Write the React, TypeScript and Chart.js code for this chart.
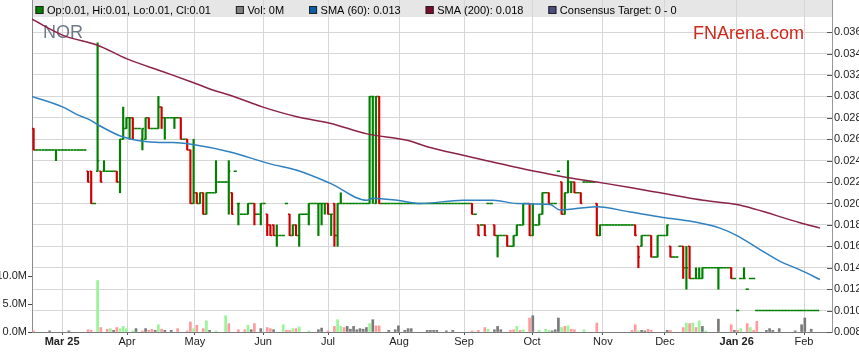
import React, { useEffect, useRef } from 'react';
import { Chart, registerables } from 'chart.js';

Chart.register(...registerables);

const FONT = "'Liberation Sans', Arial, sans-serif";
const PRICE_UNIT = 0.001; // bar prices below are in thousandths of a dollar

// [open, high, low, close] per trading day, in thousandths
const priceBars: number[][] = [
  [27,27,25,25],[25,25,25,25],[25,25,25,25],[25,25,25,25],[25,25,25,25],[25,25,25,25],[25,25,25,25],[25,25,24,25],[25,25,25,25],[25,25,25,25],
  [25,25,25,25],[25,25,25,25],[25,25,25,25],[25,25,25,25],[25,25,25,25],[25,25,25,25],[25,25,25,25],[23,23,22,22],[23,23,20,20],[20,20,20,20],
  [23,35,23,24],[23,23,22,22],[23,24,23,23],[23,23,23,23],[23,23,23,23],[23,23,23,23],[23,23,22,22],[22,26,21,26],[26,29,26,27],[27,28,27,28],
  [28,28,26,28],[28,28,26,27],[27,27,27,27],[27,27,27,27],[26,27,25,27],[26,28,26,28],[28,28,27,27],[27,27,27,27],[27,27,27,27],[27,30,27,29],
  [29,29,27,28],[28,28,26,28],[28,28,28,28],[28,28,28,28],[28,28,27,28],[28,28,28,28],[28,28,26,26],[26,26,26,26],[26,26,25,25],[25,25,20,20],
  [20,26,20,21],[21,21,20,20],[20,21,20,21],[21,21,19,19],[19,21,19,21],[21,21,21,21],[21,21,21,21],[21,24,21,22],[22,22,22,22],[22,22,22,22],
  [22,22,22,22],[22,24,19,23],[21,21,19,19],[23,23,23,23],[20,20,18,20],[19,19,19,19],[19,19,19,19],[19,20,19,20],[20,20,20,20],[20,20,18,19],
  [19,19,19,19],[19,20,18,20],[20,20,20,20],[19,19,17,18],[18,18,17,17],[18,18,17,17],[17,18,16,17],[17,17,17,17],[17,17,17,17],[20,20,20,20],
  [19,19,17,17],[17,18,17,18],[18,18,17,17],[17,19,16,19],[19,19,19,19],[19,19,19,19],[19,20,18,20],[20,20,20,20],[20,20,20,20],[20,20,17,20],
  [20,20,18,20],[20,20,19,20],[20,20,19,19],[19,19,17,19],[20,20,16,17],[17,20,16,20],[20,21,20,20],[20,20,20,20],[20,20,20,20],[20,20,20,20],
  [20,20,20,20],[20,20,20,20],[20,20,20,20],[20,20,20,20],[20,20,20,20],[20,30,20,30],[30,30,20,30],[20,30,20,30],[30,30,20,20],[20,20,20,20],
  [20,20,20,20],[20,20,20,20],[20,20,20,20],[20,20,20,20],[20,20,20,20],[20,20,20,20],[20,20,20,20],[20,20,20,20],[20,20,20,20],[20,20,20,20],
  [20,20,20,20],[20,20,20,20],[20,20,20,20],[20,20,20,20],[20,20,20,20],[20,20,20,20],[20,20,20,20],[20,20,20,20],[20,20,20,20],[20,20,20,20],
  [20,20,20,20],[20,20,20,20],[20,20,20,20],[20,20,20,20],[20,20,20,20],[20,20,20,20],[20,20,20,20],[20,20,19,19],[19,19,19,19],[18,18,17,17],
  [18,18,18,18],[18,18,17,17],[20,20,20,20],[20,20,20,20],[18,18,17,17],[17,17,15,17],[17,17,17,17],[17,17,17,17],[17,17,16,16],[16,16,16,16],
  [16,17,16,17],[17,18,17,18],[18,18,18,18],[18,20,18,20],[20,20,20,20],[20,20,17,17],[17,20,17,18],[18,18,18,18],[18,19,18,19],[19,21,19,21],
  [21,21,21,21],[21,21,20,20],[20,20,20,20],[20,20,20,20],[23,23,23,23],[22,22,19,19],[19,21,19,21],[21,24,21,22],[22,22,21,22],[22,22,21,21],
  [21,21,21,21],[21,21,20,20],[22,22,22,22],[22,22,22,22],[22,22,22,22],[22,22,22,22],[20,20,17,17],[17,18,17,18],[18,18,18,18],[18,18,18,18],
  [18,18,18,18],[18,18,18,18],[18,18,18,18],[18,18,18,18],[18,18,18,18],[18,18,18,18],[18,18,18,18],[18,18,18,18],[18,18,17,17],[16,16,14,15],
  [16,17,16,17],[17,17,17,17],[17,17,17,17],[17,17,15,15],[15,15,15,15],[15,17,15,17],[17,17,17,17],[17,17,17,17],[17,18,17,18],[16,16,15,15],
  [15,15,15,15],[15,15,15,15],[16,16,16,16],[16,16,13,14],[14,16,12,14],[16,16,13,13],[13,13,13,13],[13,14,13,13],[13,14,13,13],[13,14,13,14],
  [14,14,14,14],[14,14,14,14],[14,14,14,14],[14,14,14,14],[14,14,12,14],[14,14,14,14],[14,14,14,14],[14,14,14,14],[14,14,13,13],[13,13,13,13],
  [10,10,10,10],[13,13,13,13],[13,14,13,13],[12,12,12,12],[13,13,13,13],[13,13,13,13],[10,10,10,10],[10,10,10,10],[10,10,10,10],[10,10,10,10],
  [10,10,10,10],[10,10,10,10],[10,10,10,10],[10,10,10,10],[10,10,10,10],[10,10,10,10],[10,10,10,10],[10,10,10,10],[10,10,10,10],[10,10,10,10],
  [10,10,10,10],[10,10,10,10],[10,10,10,10],[10,10,10,10],[10,10,10,10],[10,10,10,10],
];

// [day index, volume in millions, direction u/d/n]
const volumeBars: [number, number, string][] = [
  [0,0.2,'d'],[5,0.2,'n'],[11,0.2,'n'],[17,0.4,'d'],[18,0.3,'d'],[20,9.2,'u'],[21,0.8,'d'],[23,0.5,'d'],[24,0.6,'u'],[25,0.3,'n'],
  [26,0.8,'d'],[27,0.6,'u'],[28,1.0,'u'],[29,0.6,'u'],[31,0.2,'u'],[32,0.6,'n'],[34,0.2,'d'],[35,0.6,'n'],[36,0.3,'d'],[37,0.5,'d'],
  [38,0.3,'n'],[39,1.3,'u'],[40,0.5,'d'],[41,0.3,'n'],[43,0.3,'n'],[45,0.6,'d'],[48,0.2,'d'],[49,1.8,'d'],[50,0.6,'u'],[51,1.2,'d'],
  [53,0.6,'d'],[54,2.0,'u'],[55,0.3,'n'],[57,0.2,'u'],[60,2.9,'u'],[61,1.5,'d'],[64,0.4,'d'],[66,0.4,'d'],[67,1.2,'u'],[68,0.4,'n'],
  [69,1.5,'d'],[71,0.6,'n'],[73,0.8,'d'],[74,0.6,'d'],[75,0.4,'n'],[78,1.3,'u'],[79,0.3,'d'],[80,0.3,'d'],[81,0.6,'u'],[82,0.6,'d'],
  [83,0.9,'u'],[86,0.2,'u'],[89,0.4,'n'],[90,0.7,'n'],[92,0.2,'d'],[94,1.0,'d'],[95,2.2,'u'],[96,1.0,'u'],[97,0.8,'d'],[98,1.0,'n'],
  [99,0.5,'n'],[100,1.0,'n'],[101,0.4,'n'],[102,0.6,'n'],[103,0.5,'n'],[104,0.8,'n'],[105,1.5,'u'],[106,2.2,'n'],[107,1.1,'d'],[108,1.1,'d'],
  [111,0.3,'n'],[113,0.4,'n'],[114,1.1,'n'],[116,0.3,'n'],[117,0.6,'n'],[118,0.6,'n'],[123,0.3,'n'],[124,0.3,'n'],[125,0.3,'n'],[126,0.3,'n'],
  [129,0.2,'n'],[131,0.3,'n'],[137,0.2,'d'],[139,0.3,'d'],[141,0.8,'d'],[142,0.5,'u'],[144,0.4,'n'],[145,1.0,'n'],[146,0.4,'n'],[149,0.3,'d'],
  [150,0.4,'d'],[151,1.0,'u'],[152,0.3,'d'],[153,0.4,'u'],[155,2.5,'d'],[156,2.9,'n'],[158,0.3,'u'],[160,0.5,'u'],[161,0.3,'u'],[162,0.2,'n'],
  [163,0.4,'n'],[164,2.5,'n'],[165,0.8,'u'],[166,1.0,'d'],[167,1.1,'u'],[168,0.5,'d'],[169,0.4,'d'],[172,0.4,'u'],[176,1.6,'d'],[187,0.3,'d'],
  [188,1.3,'d'],[189,0.2,'u'],[190,0.3,'n'],[191,0.2,'n'],[192,0.5,'d'],[193,0.3,'d'],[198,0.3,'n'],[199,0.3,'d'],[203,0.8,'d'],[204,1.6,'u'],
  [205,1.5,'d'],[206,1.6,'u'],[207,0.8,'d'],[208,2.0,'u'],[209,1.0,'n'],[210,0.2,'u'],[214,2.3,'n'],[218,1.3,'d'],[219,0.3,'n'],[220,0.3,'d'],
  [221,0.6,'u'],[223,1.5,'d'],[224,0.8,'u'],[225,0.3,'d'],[226,1.9,'d'],[229,0.3,'n'],[230,0.6,'n'],[231,0.3,'n'],[233,0.6,'n'],[238,0.2,'n'],
  [240,1.3,'n'],[241,2.5,'n'],[243,0.5,'n'],
];

const sma60Idx = [-0.5, 9.2, 13.6, 17.6, 19.8, 28, 39.5, 43.6, 49.8, 61.4, 73.9, 82.3, 92.6, 104.2, 106, 113.6, 120.75, 134.2, 143.6, 151.1, 161.4, 164.5, 176, 186.4, 196.7, 206.1, 214.5, 219.8, 227, 233.25, 239.5, 245.75];
const sma60Val = [0.0300, 0.0290, 0.0283, 0.0278, 0.0274, 0.0262, 0.0257, 0.0257, 0.0255, 0.0248, 0.0237, 0.0231, 0.0219, 0.0203, 0.0205, 0.0203, 0.0200, 0.0203, 0.0203, 0.0200, 0.0199, 0.0194, 0.0197, 0.0192, 0.0187, 0.0183, 0.0177, 0.0170, 0.0157, 0.0146, 0.0138, 0.0129];

const sma200Idx = [-0.5, 9.2, 19.8, 29.2, 40.5, 49.8, 56, 61.4, 71.7, 82.3, 92.6, 104.2, 116.7, 123, 134.2, 148.9, 165.4, 176, 186.4, 209.2, 219.8, 239.5, 245.75];
const sma200Val = [0.0372, 0.0357, 0.0348, 0.0335, 0.0323, 0.0313, 0.0306, 0.0301, 0.0290, 0.0281, 0.0275, 0.0265, 0.0259, 0.0253, 0.0245, 0.0235, 0.0225, 0.0220, 0.0215, 0.0203, 0.0199, 0.0182, 0.0177];

const monthTickPos = [8.9, 29.2, 50.4, 71.7, 92, 114.2, 134.5, 155.75, 177.9, 197.3, 219.7, 240.75];
const monthLabels = ['Mar 25', 'Apr', 'May', 'Jun', 'Jul', 'Aug', 'Sep', 'Oct', 'Nov', 'Dec', 'Jan 26', 'Feb'];
const yearLabels = ['Mar 25', 'Jan 26'];

const priceTicks = [0.008, 0.010, 0.012, 0.014, 0.016, 0.018, 0.020, 0.022, 0.024, 0.026, 0.028, 0.030, 0.032, 0.034, 0.036];
const volumeTicks = [0, 5, 10];

const legendLabels = ['Op:0.01, Hi:0.01, Lo:0.01, Cl:0.01', 'Vol: 0M', 'SMA (60): 0.013', 'SMA (200): 0.018', 'Consensus Target: 0 - 0'];
const legendColors = ['#008000', '#808080', '#0b5ea8', '#7a0c2e', '#4d4d80'];

const GREEN = '#008000';
const RED = '#cc0000';
const VOL_COLORS: Record<string, string> = { u: '#98f598', d: '#ff9a9a', n: '#7a7a7a' };

export default function App() {
  const ref = useRef<HTMLCanvasElement | null>(null);

  useEffect(() => {
    if (!ref.current) return;
    const barColors = priceBars.map((b) => (b[3] < b[0] ? RED : GREEN));
    const ohlcData = priceBars.map((b, i) => ({ x: i, y: [b[2] * PRICE_UNIT, b[1] * PRICE_UNIT] }));
    const volData = volumeBars.map((v) => ({ x: v[0], y: v[1] }));
    const volColors = volumeBars.map((v) => VOL_COLORS[v[2]]);
    const OHLC_INDEX = 2;

    const decor = {
      id: 'decor',
      beforeDraw(chart: any) {
        const { ctx, chartArea } = chart;
        ctx.save();
        ctx.fillStyle = '#ffffff';
        ctx.fillRect(0, 0, chart.width, chart.height);
        ctx.fillStyle = '#e6e6e6';
        ctx.fillRect(chartArea.left, 0, chartArea.right - chartArea.left, 17);
        ctx.restore();
      },
      beforeDatasetsDraw(chart: any) {
        const { ctx } = chart;
        ctx.save();
        ctx.font = `18px ${FONT}`;
        ctx.textBaseline = 'alphabetic';
        ctx.textAlign = 'left';
        ctx.fillStyle = '#6f7987';
        ctx.fillText('NOR', 43, 38);
        ctx.fillStyle = '#d0281c';
        ctx.fillText('FNArena.com', 693, 39);
        ctx.restore();
      },
      afterDatasetDraw(chart: any, args: any) {
        if (args.index !== OHLC_INDEX) return;
        const { ctx, chartArea } = chart;
        const xs = chart.scales.x;
        const ys = chart.scales.yPrice;
        const half = xs.getPixelForValue(0.5) - xs.getPixelForValue(0);
        ctx.save();
        ctx.beginPath();
        ctx.rect(chartArea.left, chartArea.top, chartArea.right - chartArea.left, chartArea.bottom - chartArea.top);
        ctx.clip();
        ctx.lineWidth = 1.5;
        priceBars.forEach((b, i) => {
          const px = xs.getPixelForValue(i);
          const yo = ys.getPixelForValue(b[0] * PRICE_UNIT);
          const yc = ys.getPixelForValue(b[3] * PRICE_UNIT);
          ctx.strokeStyle = barColors[i];
          ctx.beginPath();
          ctx.moveTo(px - half, yo);
          ctx.lineTo(px, yo);
          ctx.moveTo(px, yc);
          ctx.lineTo(px + half, yc);
          ctx.stroke();
        });
        ctx.restore();
      },
      afterDraw(chart: any) {
        const { ctx, chartArea } = chart;
        const ys = chart.scales.yPrice;
        ctx.save();
        ctx.strokeStyle = '#555';
        ctx.lineWidth = 1;
        priceTicks.forEach((v) => {
          const y = Math.round(ys.getPixelForValue(v)) + 0.5;
          ctx.beginPath();
          ctx.moveTo(chartArea.right - 5, y);
          ctx.lineTo(chartArea.right, y);
          ctx.stroke();
        });
        ctx.font = `11px ${FONT}`;
        ctx.textBaseline = 'middle';
        ctx.textAlign = 'left';
        let x = chartArea.left + 3.5;
        legendLabels.forEach((lbl, k) => {
          ctx.fillStyle = legendColors[k];
          ctx.fillRect(x, 6, 8, 8);
          ctx.strokeStyle = '#222';
          ctx.strokeRect(x + 0.5, 6.5, 7, 7);
          ctx.fillStyle = '#000';
          ctx.fillText(lbl, x + 11.5, 10.5);
          x += 11.5 + ctx.measureText(lbl).width + 25;
        });
        ctx.restore();
      },
    };

    const chart = new Chart(ref.current, {
      type: 'bar',
      data: {
        datasets: [
          {
            type: 'line',
            label: 'SMA (200)',
            data: sma200Idx.map((x, k) => ({ x, y: sma200Val[k] })),
            yAxisID: 'yPrice',
            borderColor: '#8c2346',
            borderWidth: 1.5,
            pointRadius: 0,
            cubicInterpolationMode: 'monotone',
            order: 0,
          } as any,
          {
            type: 'line',
            label: 'SMA (60)',
            data: sma60Idx.map((x, k) => ({ x, y: sma60Val[k] })),
            yAxisID: 'yPrice',
            borderColor: '#2f80c0',
            borderWidth: 1.5,
            pointRadius: 0,
            cubicInterpolationMode: 'monotone',
            order: 0,
          } as any,
          {
            type: 'bar',
            label: 'Price',
            data: ohlcData as any,
            yAxisID: 'yPrice',
            backgroundColor: barColors,
            borderWidth: 0,
            barThickness: 1.5,
            grouped: false,
            order: 1,
          } as any,
          {
            type: 'bar',
            label: 'Vol',
            data: volData as any,
            yAxisID: 'yVol',
            backgroundColor: volColors,
            borderWidth: 0,
            barThickness: 2,
            grouped: false,
            order: 2,
          } as any,
        ],
      },
      options: {
        responsive: false,
        animation: false,
        events: [],
        layout: { padding: 0, autoPadding: false } as any,
        plugins: { legend: { display: false }, tooltip: { enabled: false }, title: { display: false } },
        scales: {
          x: {
            type: 'linear',
            min: -0.5,
            max: 249.5,
            offset: false,
            afterBuildTicks: (s: any) => {
              s.ticks = monthTickPos.map((v) => ({ value: v }));
            },
            afterFit: (s: any) => {
              s.height = 31;
              s.paddingLeft = 0;
              s.paddingRight = 0;
            },
            ticks: {
              autoSkip: false,
              maxRotation: 0,
              padding: 0,
              color: '#222',
              callback: (_v: any, i: number) => monthLabels[i],
              font: (ctx: any) => ({
                family: FONT,
                size: 11,
                weight: yearLabels.includes(monthLabels[ctx.index]) ? 'bold' : 'normal',
              }),
            },
            grid: { offset: false, color: '#d6d6d6', lineWidth: 1, tickLength: 3, tickColor: '#555' },
            border: { color: '#7a7a7a', width: 1 },
          } as any,
          yPrice: {
            type: 'linear',
            position: 'right',
            min: 0.008,
            max: 0.039,
            afterBuildTicks: (s: any) => {
              s.ticks = priceTicks.map((v) => ({ value: v }));
            },
            afterFit: (s: any) => {
              s.width = 27;
              s.paddingTop = 0;
              s.paddingBottom = 0;
            },
            ticks: {
              padding: 2,
              color: '#222',
              font: { family: FONT, size: 11 },
              callback: (v: any) => Number(v).toFixed(3),
            },
            grid: { color: '#d6d6d6', lineWidth: 1, drawTicks: false },
            border: { color: '#999', width: 1 },
          } as any,
          yVol: {
            type: 'linear',
            position: 'left',
            min: 0,
            max: 59.3,
            afterBuildTicks: (s: any) => {
              s.ticks = volumeTicks.map((v) => ({ value: v }));
            },
            afterFit: (s: any) => {
              s.width = 32;
              s.paddingTop = 0;
              s.paddingBottom = 0;
            },
            ticks: {
              padding: 1,
              color: '#222',
              font: { family: FONT, size: 11 },
              callback: (v: any) => Number(v).toFixed(1) + 'M',
            },
            grid: { drawOnChartArea: false, tickLength: 4, tickColor: '#444' },
            border: { color: '#8c8c8c', width: 1 },
          } as any,
        },
      },
      plugins: [decor],
    } as any);

    return () => chart.destroy();
  }, []);

  return (
    <div style={{ position: 'fixed', left: 0, top: 0, width: 859, height: 363, background: '#fff' }}>
      <canvas ref={ref} width={859} height={363} style={{ display: 'block' }} />
    </div>
  );
}
